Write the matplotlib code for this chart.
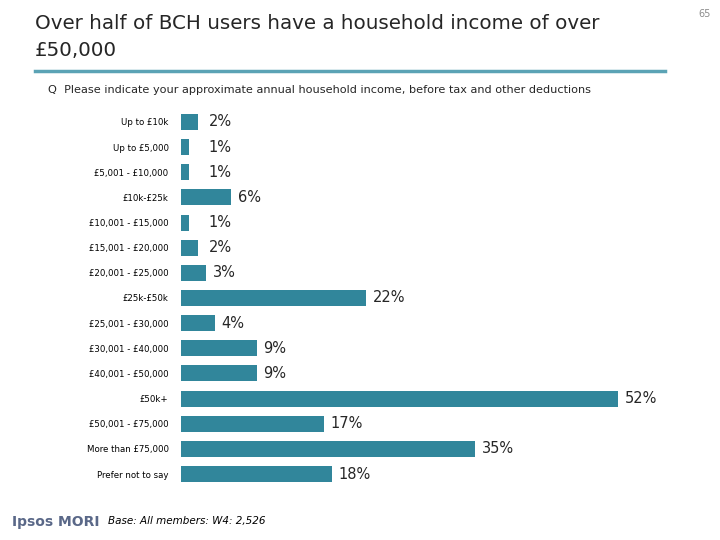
import matplotlib
matplotlib.use("Agg")
import matplotlib.pyplot as plt
from matplotlib.lines import Line2D

# data
categories = ["Up to £10k", "Up to £5,000", "£5,001 - £10,000", "£10k-£25k",
              "£10,001 - £15,000", "£15,001 - £20,000", "£20,001 - £25,000",
              "£25k-£50k", "£25,001 - £30,000", "£30,001 - £40,000",
              "£40,001 - £50,000", "£50k+", "£50,001 - £75,000",
              "More than £75,000", "Prefer not to say"]
values = [2, 1, 1, 6, 1, 2, 3, 22, 4, 9, 9, 52, 17, 35, 18]

title = "Over half of BCH users have a household income of over\n£50,000"
question = "Q  Please indicate your approximate annual household income, before tax and other deductions"
base_note = "Base: All members: W4: 2,526"

bar_col = "#31869B"
text_col = "#262626"

fig = plt.figure(figsize=(7.2, 5.4), dpi=100)
fig.patch.set_facecolor("white")

ax = fig.add_axes([0.2514, 0.0989, 0.70, 0.6985])
y = range(len(categories))
ax.barh(y, values, height=0.64, color=bar_col)
ax.set_ylim(len(categories) - 0.5, -0.5)
ax.set_xlim(0, 60)
ax.set_yticks(list(y))
ax.set_yticklabels(categories, fontsize=6.2, color="black")
ax.tick_params(axis="y", length=0, pad=9)
ax.set_xticks([])
for s in ax.spines.values():
    s.set_visible(False)

for i, v in enumerate(values):
    ax.text(max(v, 2.5) + 0.8, i, f"{v}%", va="center", ha="left",
            fontsize=10.5, color=text_col)

# header
fig.text(35 / 720, 1 - 14 / 540, title, ha="left", va="top", fontsize=14.3,
         color=text_col, linespacing=1.5)
fig.add_artist(Line2D([35 / 720, 665 / 720], [1 - 71 / 540, 1 - 71 / 540],
                      color="#5BA3B5", lw=2.5, transform=fig.transFigure))
fig.text(48 / 720, 1 - 90 / 540, question, ha="left", va="center",
         fontsize=8.1, color=text_col)
fig.text(705 / 720, 1 - 14 / 540, "65", ha="center", va="center",
         fontsize=7, color="#8C8C8C")

# footer
fig.text(12 / 720, 1 - 522 / 540, "Ipsos MORI", ha="left", va="center",
         fontsize=10, fontweight="bold", color="#5A6888")
fig.text(108 / 720, 1 - 521 / 540, base_note, ha="left", va="center",
         fontsize=7.5, style="italic", color="black")

fig.savefig("out.png", dpi=100)
